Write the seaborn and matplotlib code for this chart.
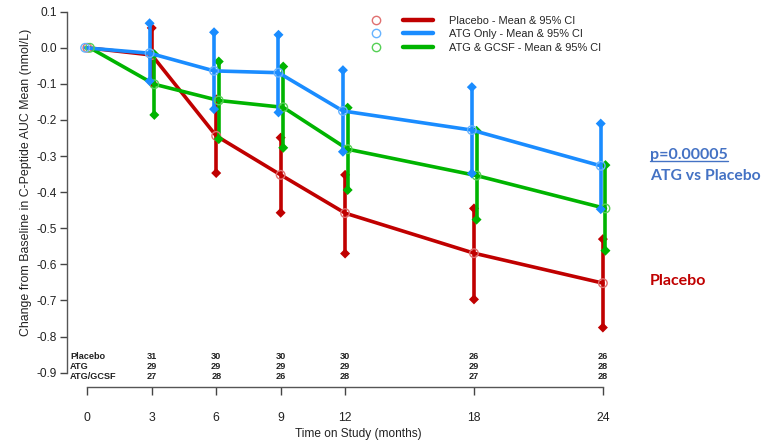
import numpy as np
import pandas as pd
import matplotlib
matplotlib.use("Agg")
import matplotlib.pyplot as plt
import seaborn as sns
from matplotlib.lines import Line2D
from matplotlib.legend_handler import HandlerTuple

# ---------------- data ----------------
months = [0, 3, 6, 9, 12, 18, 24]
groups = ["Placebo", "ATG Only", "ATG & GCSF"]

placebo_mean = [0.0, -0.020, -0.244, -0.352, -0.458, -0.569, -0.652]
placebo_lo = [np.nan, -0.096, -0.347, -0.457, -0.570, -0.697, -0.775]
placebo_hi = [np.nan, 0.055, -0.143, -0.249, -0.352, -0.445, -0.530]

atg_mean = [0.0, -0.015, -0.064, -0.069, -0.175, -0.228, -0.327]
atg_lo = [np.nan, -0.092, -0.170, -0.179, -0.288, -0.348, -0.447]
atg_hi = [np.nan, 0.068, 0.043, 0.036, -0.062, -0.109, -0.210]

gcsf_mean = [0.0, -0.101, -0.146, -0.165, -0.281, -0.354, -0.445]
gcsf_lo = [np.nan, -0.186, -0.253, -0.277, -0.394, -0.476, -0.562]
gcsf_hi = [np.nan, -0.018, -0.038, -0.052, -0.166, -0.230, -0.325]

risk_labels = ["Placebo", "ATG", "ATG/GCSF"]
risk_placebo = [31, 30, 30, 30, 26, 26]
risk_atg = [29, 29, 29, 29, 29, 28]
risk_gcsf = [27, 28, 26, 28, 27, 28]
risk_months = [3, 6, 9, 12, 18, 24]

legend_labels = ["Placebo - Mean & 95% CI", "ATG Only - Mean & 95% CI",
                 "ATG & GCSF - Mean & 95% CI"]
yticks = [0.1, 0.0, -0.1, -0.2, -0.3, -0.4, -0.5, -0.6, -0.7, -0.8, -0.9]
xticks = [0, 3, 6, 9, 12, 18, 24]

# ---------------- style ----------------
sns.set_theme(style="ticks")
plt.rcParams["font.family"] = ["Liberation Sans", "DejaVu Sans"]
plt.rcParams["axes.unicode_minus"] = False

line_colors = {"Placebo": "#c00000", "ATG Only": "#1a8cff", "ATG & GCSF": "#00b400"}
circle_colors = {"Placebo": "#e07070", "ATG Only": "#66b3ff", "ATG & GCSF": "#55d055"}
offsets = {"Placebo": 0.0, "ATG Only": -0.10, "ATG & GCSF": 0.12}

means = {"Placebo": placebo_mean, "ATG Only": atg_mean, "ATG & GCSF": gcsf_mean}
los = {"Placebo": placebo_lo, "ATG Only": atg_lo, "ATG & GCSF": gcsf_lo}
his = {"Placebo": placebo_hi, "ATG Only": atg_hi, "ATG & GCSF": gcsf_hi}

rows = []
for g in groups:
    for m, mu, lo, hi in zip(months, means[g], los[g], his[g]):
        rows.append({"group": g, "month": m + offsets[g], "mean": mu, "lo": lo, "hi": hi})
df = pd.DataFrame(rows)

fig = plt.figure(figsize=(7.78, 4.43), dpi=100)
ax = fig.add_axes([0.0857, 0.127, 0.797 - 0.0857, 0.9736 - 0.127])

lw = 2.6
draw_order = ["Placebo", "ATG & GCSF", "ATG Only"]
for i, g in enumerate(draw_order):
    d = df[df["group"] == g]
    sns.lineplot(data=d, x="month", y="mean", color=line_colors[g], lw=lw,
                 ax=ax, legend=False, zorder=2 + i, estimator=None, sort=False)
    e = d.dropna()
    ax.vlines(e["month"], e["lo"], e["hi"], color=line_colors[g], lw=lw, zorder=2 + i)
    sns.scatterplot(x=pd.concat([e["month"], e["month"]]),
                    y=pd.concat([e["lo"], e["hi"]]),
                    marker="D", s=26, color=line_colors[g], edgecolor="none",
                    ax=ax, zorder=3 + i, legend=False)
    ax.scatter(d["month"], d["mean"], s=38, facecolor="none",
               edgecolor=circle_colors[g], linewidth=1.0, zorder=4 + i)

ax.set_xlim(-0.96, 24.8)
ax.set_ylim(-0.939, 0.1)
ax.set_yticks(yticks)
ax.set_yticklabels([f"{v:.1f}" for v in yticks], fontsize=8.6, color="#222222")
ax.set_xticks(xticks)
ax.set_xticklabels([str(v) for v in xticks], fontsize=8.8, color="#222222")
ax.tick_params(axis="y", length=5, width=1, color="#444444", pad=2)
ax.tick_params(axis="x", length=6, width=1, color="#444444", pad=12)
sns.despine(ax=ax)
ax.spines["left"].set_bounds(-0.9, 0.1)
ax.spines["bottom"].set_bounds(0, 24)
for s in ("left", "bottom"):
    ax.spines[s].set_color("#555555")
    ax.spines[s].set_linewidth(1.0)

ax.set_ylabel("Change from Baseline in C-Peptide AUC Mean (nmol/L)", fontsize=8.9,
              color="#222222")
ax.yaxis.set_label_coords(-0.062, 0.545)
ax.set_xlabel("Time on Study (months)", fontsize=8.6, color="#222222")
ax.xaxis.set_label_coords((358 - 66.7) / (620 - 66.7), -0.11)

# number at risk
risk_y = [-0.854, -0.882, -0.911]
for lab, yy, vals in zip(risk_labels, risk_y, [risk_placebo, risk_atg, risk_gcsf]):
    ax.text(-0.80, yy, lab, fontsize=6.6, fontweight="bold", color="#222222",
            ha="left", va="center")
    for m, v in zip(risk_months, vals):
        ax.text(m, yy, str(v), fontsize=6.6, fontweight="bold", color="#222222",
                ha="center", va="center")

# legend
handles = []
for g in groups:
    c = Line2D([], [], ls="none", marker="o", markersize=6, markerfacecolor="none",
               markeredgecolor=circle_colors[g], markeredgewidth=1.0)
    l = Line2D([], [], color=line_colors[g], lw=3.2)
    handles.append((c, l))
fig.legend(handles, legend_labels, handler_map={tuple: HandlerTuple(ndivide=None, pad=1.1)},
           loc="upper left", bbox_to_anchor=(361 / 778, 1 - 16 / 443), frameon=False,
           fontsize=7.9, handlelength=6.6, handletextpad=1.4, labelspacing=0.3,
           borderpad=0, borderaxespad=0)

# right annotations
blue_txt = "#4472c4"
t = fig.text(650 / 778, 1 - 155 / 443, "p=0.00005", fontsize=11.5, fontweight="bold",
             color=blue_txt, family=["Lato", "DejaVu Sans"], ha="left", va="center")
fig.text(650 / 778, 1 - 176 / 443, "ATG vs Placebo", fontsize=11.3, fontweight="bold",
         color=blue_txt, family=["Lato", "DejaVu Sans"], ha="left", va="center")
fig.text(650 / 778, 1 - 281 / 443, "Placebo", fontsize=11.5, fontweight="bold",
         color="#c00000", family=["Lato", "DejaVu Sans"], ha="left", va="center")

fig.canvas.draw()
bb = t.get_window_extent(renderer=fig.canvas.get_renderer())
inv = fig.transFigure.inverted()
(x0, y0), (x1, y1) = inv.transform([(bb.x0, bb.y0), (bb.x1, bb.y0)])
fig.add_artist(Line2D([x0, x1], [y0 + 0.002, y0 + 0.002], color=blue_txt, lw=1.0,
                      transform=fig.transFigure))

fig.savefig("out.png", dpi=100)
